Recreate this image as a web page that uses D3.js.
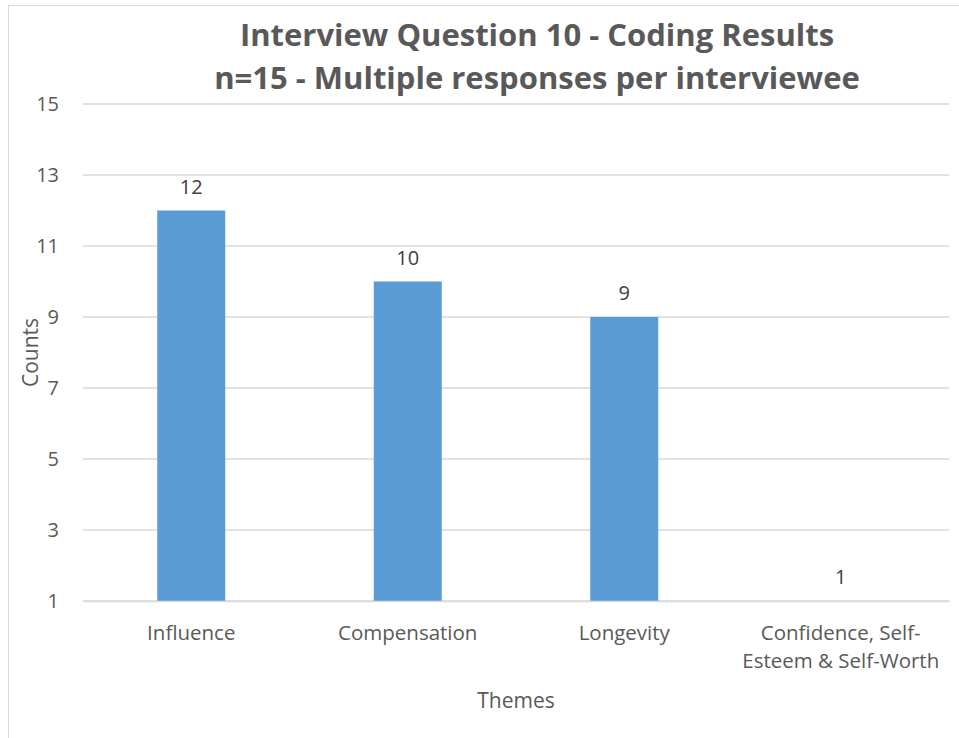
<!DOCTYPE html>
<html><head><meta charset="utf-8">
<script src="https://cdn.jsdelivr.net/npm/d3@7"></script>
<style>body{margin:0;background:#fff}svg{display:block}text{font-family:"Open Sans",sans-serif}</style>
</head><body><svg id="c" width="959" height="738"></svg>
<script>
const categories = ["Influence", "Compensation", "Longevity", "Confidence, Self-|Esteem & Self-Worth"];
const counts = [12, 10, 9, 1];
const yTicks = [1, 3, 5, 7, 9, 11, 13, 15];
const titleLines = ["Interview Question 10 - Coding Results", "n=15 - Multiple responses per interviewee"];
const xTitle = "Themes", yTitle = "Counts";

const svg = d3.select("#c");
const W = 959, H = 738;
const m = {l: 83, r: 10, t: 104, b: 137};
svg.append("rect").attr("x", 8.5).attr("y", 5.5).attr("width", W).attr("height", H).attr("fill", "#fff").attr("stroke", "#d9d9d9");

const x = d3.scaleBand().domain(categories).range([m.l, W - m.r]).padding(0);
const y = d3.scaleLinear().domain([1, 15]).range([H - m.b, m.t]);

const g = svg.append("g");
g.selectAll("line.grid").data(yTicks).join("line")
  .attr("x1", m.l).attr("x2", W - m.r)
  .attr("y1", d => y(d)).attr("y2", d => y(d))
  .attr("stroke", "#d9d9d9").attr("stroke-width", 1.3);

const yAxis = g.append("g").attr("transform", `translate(${m.l},0)`)
  .call(d3.axisLeft(y).tickValues(yTicks).tickSize(0).tickPadding(24));
yAxis.select(".domain").remove();
yAxis.selectAll("text").attr("fill", "#595959").attr("font-size", 20).attr("font-family", "Open Sans");

const bw = x.bandwidth() * 0.314;
g.selectAll("rect.bar").data(counts).join("rect")
  .attr("x", (d, i) => x(categories[i]) + (x.bandwidth() - bw) / 2)
  .attr("width", bw)
  .attr("y", d => y(d)).attr("height", d => y(1) - y(d))
  .attr("fill", "#5B9BD5");

g.selectAll("text.lbl").data(counts).join("text")
  .attr("x", (d, i) => x(categories[i]) + x.bandwidth() / 2)
  .attr("y", d => y(d) - 17)
  .attr("text-anchor", "middle").attr("fill", "#404040").attr("font-size", 20)
  .text(d => d);

const xAxis = g.append("g").attr("transform", `translate(0,${y(1)})`)
  .call(d3.axisBottom(x).tickSize(0).tickFormat(() => ""));
xAxis.select(".domain").attr("stroke", "#d9d9d9").attr("stroke-width", 1.3);
xAxis.selectAll(".tick").each(function(d) {
  const t = d3.select(this).select("text").attr("fill", "#595959").attr("font-size", 20.5)
    .attr("y", 0).attr("dy", null);
  d.split("|").forEach((s, i) => t.append("tspan").attr("x", 0).attr("y", 39 + i * 28).text(s));
});

svg.append("text").attr("x", (m.l + W - m.r) / 2).attr("y", 708).attr("text-anchor", "middle")
  .attr("fill", "#595959").attr("font-size", 21).text(xTitle);
svg.append("text").attr("transform", `translate(38,${(y(1)+y(15))/2}) rotate(-90)`).attr("text-anchor", "middle")
  .attr("fill", "#595959").attr("font-size", 21).text(yTitle);

titleLines.forEach((t, i) => svg.append("text").attr("x", 537).attr("y", 46 + i * 43)
  .attr("text-anchor", "middle").attr("font-weight", "bold").attr("font-size", 31)
  .attr("fill", "#595959").text(t));
</script></body></html>
